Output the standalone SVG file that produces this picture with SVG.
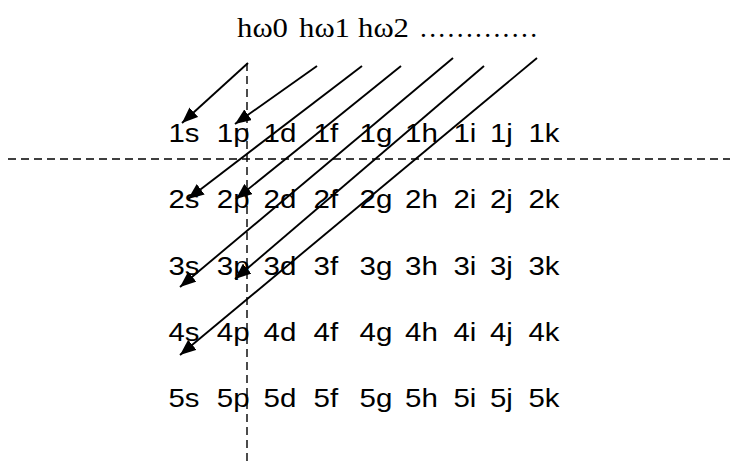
<svg xmlns="http://www.w3.org/2000/svg" width="737" height="468" viewBox="0 0 737 468">
<style>
.t{font-family:"Liberation Sans",Arial,sans-serif;font-size:25px;fill:#000}
.h{font-family:"Liberation Serif","Times New Roman",serif;font-size:27.5px;fill:#000}
.dash{stroke:#000;stroke-width:1.4;stroke-dasharray:8 5;fill:none}
.arr{stroke:#000;stroke-width:1.9;fill:none;marker-end:url(#ah)}
</style>
<defs>
<marker id="ah" markerUnits="userSpaceOnUse" markerWidth="17" markerHeight="13" refX="16" refY="6.5" orient="auto">
<path d="M0,0 L16,6.5 L0,13 z" fill="#000"/>
</marker>
</defs>
<rect width="737" height="468" fill="#fff"/>
<g id="title">
<text class="h" x="237" y="37" textLength="51" lengthAdjust="spacingAndGlyphs">hω0</text>
<text class="h" x="299" y="37" textLength="51" lengthAdjust="spacingAndGlyphs">hω1</text>
<text class="h" x="358" y="37" textLength="51" lengthAdjust="spacingAndGlyphs">hω2</text>
<text class="h" x="420" y="37" textLength="117" lengthAdjust="spacing">.............</text>
</g>
<g id="axes">
<line class="dash" x1="8" y1="159" x2="730" y2="159"/>
<line class="dash" x1="247" y1="63" x2="247" y2="463"/>
</g>
<g id="row1" class="t">
<text x="168.5" y="142" textLength="31" lengthAdjust="spacingAndGlyphs">1s</text>
<text x="216.8" y="142" textLength="32.8" lengthAdjust="spacingAndGlyphs">1p</text>
<text x="263.5" y="142" textLength="32.8" lengthAdjust="spacingAndGlyphs">1d</text>
<text x="313.5" y="142" textLength="24.6" lengthAdjust="spacingAndGlyphs">1f</text>
<text x="359.5" y="142" textLength="32.8" lengthAdjust="spacingAndGlyphs">1g</text>
<text x="405" y="142" textLength="32.8" lengthAdjust="spacingAndGlyphs">1h</text>
<text x="453.5" y="142" textLength="22.9" lengthAdjust="spacingAndGlyphs">1i</text>
<text x="490" y="142" textLength="22.9" lengthAdjust="spacingAndGlyphs">1j</text>
<text x="528.5" y="142" textLength="31" lengthAdjust="spacingAndGlyphs">1k</text>
</g>
<g id="row2" class="t">
<text x="168.5" y="208" textLength="31" lengthAdjust="spacingAndGlyphs">2s</text>
<text x="216.8" y="208" textLength="32.8" lengthAdjust="spacingAndGlyphs">2p</text>
<text x="263.5" y="208" textLength="32.8" lengthAdjust="spacingAndGlyphs">2d</text>
<text x="313.5" y="208" textLength="24.6" lengthAdjust="spacingAndGlyphs">2f</text>
<text x="359.5" y="208" textLength="32.8" lengthAdjust="spacingAndGlyphs">2g</text>
<text x="405" y="208" textLength="32.8" lengthAdjust="spacingAndGlyphs">2h</text>
<text x="453.5" y="208" textLength="22.9" lengthAdjust="spacingAndGlyphs">2i</text>
<text x="490" y="208" textLength="22.9" lengthAdjust="spacingAndGlyphs">2j</text>
<text x="528.5" y="208" textLength="31" lengthAdjust="spacingAndGlyphs">2k</text>
</g>
<g id="row3" class="t">
<text x="168.5" y="275" textLength="31" lengthAdjust="spacingAndGlyphs">3s</text>
<text x="216.8" y="275" textLength="32.8" lengthAdjust="spacingAndGlyphs">3p</text>
<text x="263.5" y="275" textLength="32.8" lengthAdjust="spacingAndGlyphs">3d</text>
<text x="313.5" y="275" textLength="24.6" lengthAdjust="spacingAndGlyphs">3f</text>
<text x="359.5" y="275" textLength="32.8" lengthAdjust="spacingAndGlyphs">3g</text>
<text x="405" y="275" textLength="32.8" lengthAdjust="spacingAndGlyphs">3h</text>
<text x="453.5" y="275" textLength="22.9" lengthAdjust="spacingAndGlyphs">3i</text>
<text x="490" y="275" textLength="22.9" lengthAdjust="spacingAndGlyphs">3j</text>
<text x="528.5" y="275" textLength="31" lengthAdjust="spacingAndGlyphs">3k</text>
</g>
<g id="row4" class="t">
<text x="168.5" y="341" textLength="31" lengthAdjust="spacingAndGlyphs">4s</text>
<text x="216.8" y="341" textLength="32.8" lengthAdjust="spacingAndGlyphs">4p</text>
<text x="263.5" y="341" textLength="32.8" lengthAdjust="spacingAndGlyphs">4d</text>
<text x="313.5" y="341" textLength="24.6" lengthAdjust="spacingAndGlyphs">4f</text>
<text x="359.5" y="341" textLength="32.8" lengthAdjust="spacingAndGlyphs">4g</text>
<text x="405" y="341" textLength="32.8" lengthAdjust="spacingAndGlyphs">4h</text>
<text x="453.5" y="341" textLength="22.9" lengthAdjust="spacingAndGlyphs">4i</text>
<text x="490" y="341" textLength="22.9" lengthAdjust="spacingAndGlyphs">4j</text>
<text x="528.5" y="341" textLength="31" lengthAdjust="spacingAndGlyphs">4k</text>
</g>
<g id="row5" class="t">
<text x="168.5" y="407" textLength="31" lengthAdjust="spacingAndGlyphs">5s</text>
<text x="216.8" y="407" textLength="32.8" lengthAdjust="spacingAndGlyphs">5p</text>
<text x="263.5" y="407" textLength="32.8" lengthAdjust="spacingAndGlyphs">5d</text>
<text x="313.5" y="407" textLength="24.6" lengthAdjust="spacingAndGlyphs">5f</text>
<text x="359.5" y="407" textLength="32.8" lengthAdjust="spacingAndGlyphs">5g</text>
<text x="405" y="407" textLength="32.8" lengthAdjust="spacingAndGlyphs">5h</text>
<text x="453.5" y="407" textLength="22.9" lengthAdjust="spacingAndGlyphs">5i</text>
<text x="490" y="407" textLength="22.9" lengthAdjust="spacingAndGlyphs">5j</text>
<text x="528.5" y="407" textLength="31" lengthAdjust="spacingAndGlyphs">5k</text>
</g>
<g id="connectors">
<line class="arr" x1="248" y1="63" x2="182" y2="123"/>
<line class="arr" x1="317" y1="66" x2="235" y2="124"/>
<line class="arr" x1="362" y1="66" x2="188" y2="199"/>
<line class="arr" x1="401" y1="66" x2="236" y2="199"/>
<line class="arr" x1="453" y1="58" x2="180" y2="287"/>
<line class="arr" x1="484" y1="66" x2="235" y2="279"/>
<line class="arr" x1="537" y1="58" x2="180" y2="355"/>
</g>
</svg>
